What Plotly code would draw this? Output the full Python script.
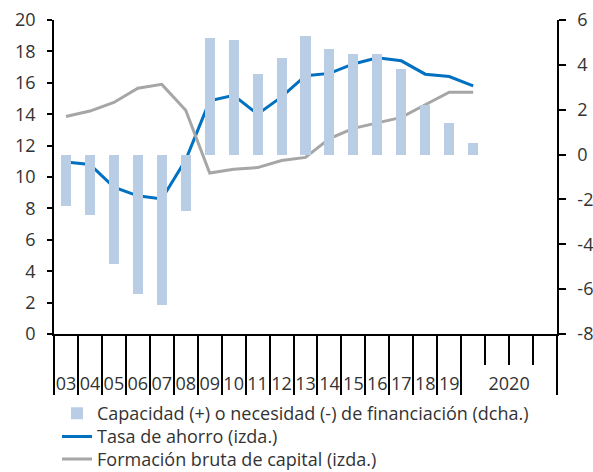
import plotly.graph_objects as go

# categories: annual 2003-2019, then 2020 split in four quarters
years = ["03", "04", "05", "06", "07", "08", "09", "10", "11", "12",
         "13", "14", "15", "16", "17", "18", "19"]
quarters_2020 = ["I", "II", "III", "IV"]

# Capacidad (+) o necesidad (-) de financiación, % (dcha.)
capacidad = [-2.3, -2.7, -4.9, -6.2, -6.7, -2.5, 5.2, 5.1, 3.6, 4.3,
             5.3, 4.7, 4.5, 4.5, 3.8, 2.2, 1.4, 0.5]
# Tasa de ahorro (izda.)
ahorro = [10.95, 10.8, 9.35, 8.8, 8.6, 11.1, 14.85, 15.2, 14.0, 15.1,
          16.45, 16.6, 17.2, 17.6, 17.4, 16.55, 16.4, 15.8]
# Formación bruta de capital (izda.)
fbk = [13.85, 14.2, 14.75, 15.65, 15.9, 14.25, 10.25, 10.5, 10.6, 11.05,
       11.25, 12.45, 13.1, 13.45, 13.8, 14.6, 15.4, 15.4]

right_ticks = [-8, -6, -4, -2, 0, 2, 4, 6]

n_cat = len(years) + len(quarters_2020)
xpos = list(range(len(capacidad)))

FONT = "Open Sans"
TXT = "#333333"
FS = 18

fig = go.Figure()

fig.add_trace(go.Bar(
    x=xpos, y=capacidad, yaxis="y2",
    name="Capacidad (+) o necesidad (-) de financiación (dcha.)",
    marker=dict(color="#B9CDE5", line=dict(width=0)),
    width=0.42, legend="legend",
))
fig.add_trace(go.Scatter(
    x=xpos, y=ahorro, mode="lines",
    name="Tasa de ahorro (izda.)",
    line=dict(color="#0070C0", width=3), legend="legend2",
))
fig.add_trace(go.Scatter(
    x=xpos, y=fbk, mode="lines",
    name="Formación bruta de capital (izda.)",
    line=dict(color="#A6A6A6", width=3), legend="legend3",
))
# invisible trace to activate the label axis
fig.add_trace(go.Scatter(x=[0], y=[0], xaxis="x2", mode="markers",
                         marker=dict(opacity=0), showlegend=False,
                         hoverinfo="skip"))

# boundaries between categories: long ticks for years, short inside 2020
long_ticks = [i - 0.5 for i in range(len(years) + 1)] + [n_cat - 0.5]
short_ticks = [len(years) + i + 0.5 for i in range(len(quarters_2020) - 1)]

label_pos = list(range(len(years))) + [len(years) + (len(quarters_2020) - 1) / 2]
label_txt = years + ["2020"]


def legend_row(ytop):
    # one legend per row so the rows can sit as close as in the original
    return dict(
        x=0.006, y=ytop, xanchor="left", yanchor="top",
        yref="container",
        font=dict(family=FONT, size=FS, color=TXT),
        itemwidth=30, bgcolor="rgba(0,0,0,0)",
    )


fig.update_layout(
    width=593, height=472,
    margin=dict(l=54, r=36, t=20, b=138, autoexpand=False),
    paper_bgcolor="white", plot_bgcolor="white",
    font=dict(family=FONT, size=FS, color=TXT),
    bargap=0,
    showlegend=True,
    legend=legend_row(0.163),
    legend2=legend_row(0.114),
    legend3=legend_row(0.066),
    xaxis=dict(
        range=[-0.5, n_cat - 0.5],
        showgrid=False, zeroline=False,
        showline=True, linecolor="black", linewidth=1.5,
        tickmode="array", tickvals=long_ticks,
        ticktext=[""] * len(long_ticks),
        ticks="outside", ticklen=59, tickwidth=1.5, tickcolor="black",
        minor=dict(tickmode="array", tickvals=short_ticks, ticks="outside",
                   ticklen=29, tickwidth=1.5, tickcolor="black",
                   showgrid=False),
    ),
    xaxis2=dict(
        overlaying="x", matches="x", anchor="y", side="bottom",
        showgrid=False, zeroline=False, showline=False,
        tickmode="array", tickvals=label_pos, ticktext=label_txt,
        ticks="outside", ticklen=33, tickcolor="rgba(0,0,0,0)",
        tickfont=dict(family=FONT, size=FS, color=TXT),
    ),
    yaxis=dict(
        range=[0, 20], dtick=2,
        showgrid=False, zeroline=False,
        showline=True, linecolor="black", linewidth=1.5,
        ticks="outside", ticklen=5, tickwidth=1.5, tickcolor="black",
        ticklabelstandoff=8,
        tickfont=dict(family=FONT, size=FS, color=TXT),
    ),
    yaxis2=dict(
        range=[-8, 6], overlaying="y", side="right", anchor="x",
        tickmode="array", tickvals=right_ticks,
        ticktext=[str(v) for v in right_ticks],
        showgrid=False, zeroline=False,
        showline=True, linecolor="black", linewidth=1.5,
        ticks="outside", ticklen=7, tickwidth=1.5, tickcolor="black",
        ticklabelstandoff=8,
        tickfont=dict(family=FONT, size=FS, color=TXT),
    ),
)

# the page's default body margin would push the figure out of the window
fig.write_html("out.html", config={"displayModeBar": False},
               post_script="document.body.style.margin='0px';")
